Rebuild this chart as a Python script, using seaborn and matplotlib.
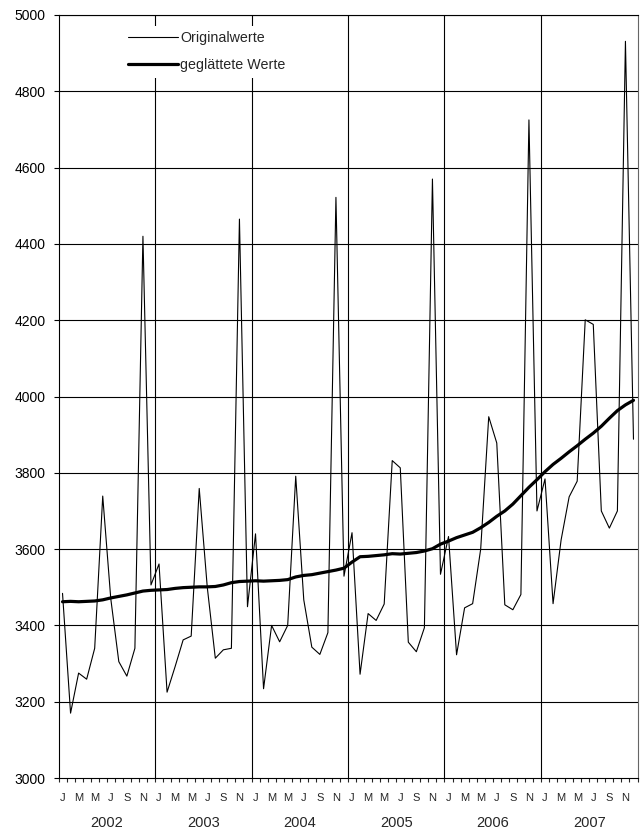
import numpy as np
import pandas as pd
import matplotlib
matplotlib.use("Agg")
import matplotlib.pyplot as plt
import matplotlib.transforms as mtransforms
import seaborn as sns

# ---- data -------------------------------------------------------------
years = ["2002", "2003", "2004", "2005", "2006", "2007"]
month_letters = ["J", "M", "M", "J", "S", "N"]   # Jan, Mar, May, Jul, Sep, Nov

original = [
    3484, 3170, 3275, 3259, 3340, 3739, 3470, 3305, 3267, 3340, 4420, 3506,  # 2002
    3561, 3225, 3292, 3362, 3372, 3759, 3500, 3314, 3336, 3340, 4465, 3449,  # 2003
    3640, 3234, 3400, 3357, 3400, 3791, 3467, 3343, 3324, 3381, 4522, 3529,  # 2004
    3643, 3272, 3431, 3413, 3456, 3832, 3813, 3356, 3331, 3394, 4570, 3534,  # 2005
    3633, 3323, 3446, 3457, 3600, 3947, 3878, 3454, 3441, 3481, 4725, 3700,  # 2006
    3784, 3457, 3624, 3737, 3778, 4201, 4189, 3700, 3655, 3700, 4931, 3888,  # 2007
]
smoothed = [
    3462, 3463, 3462, 3463, 3464, 3467, 3472, 3476, 3480, 3485, 3490, 3492,
    3493, 3494, 3497, 3499, 3500, 3501, 3501, 3502, 3506, 3512, 3515, 3516,
    3517, 3516, 3517, 3518, 3520, 3527, 3531, 3533, 3537, 3541, 3545, 3550,
    3566, 3580, 3581, 3583, 3585, 3588, 3587, 3589, 3591, 3595, 3601, 3613,
    3621, 3630, 3637, 3644, 3656, 3670, 3686, 3700, 3718, 3740, 3762, 3782,
    3803, 3822, 3838, 3855, 3871, 3888, 3904, 3922, 3943, 3963, 3978, 3990,
]
label_orig = "Originalwerte"
label_smooth = "geglättete Werte"

n = len(original)
df_o = pd.DataFrame({"t": np.arange(n), "wert": original})
df_s = pd.DataFrame({"t": np.arange(n), "wert": smoothed})

# ---- style ------------------------------------------------------------
sns.set_style("white")
plt.rcParams["font.family"] = ["Liberation Sans", "DejaVu Sans"]

fig = plt.figure(figsize=(6.44, 8.35), dpi=100)
ax = fig.add_axes([58.5 / 644, 1 - 778 / 835, 579 / 644, 763 / 835])

# grid lines
for v in range(3200, 5001, 200):
    ax.axhline(v, color="black", lw=0.8, zorder=1)
for k in range(1, len(years)):
    ax.axvline(12 * k - 0.5, color="black", lw=0.8, zorder=1)

sns.lineplot(data=df_o, x="t", y="wert", ax=ax, color="black", lw=0.8,
             label=label_orig, zorder=3)
sns.lineplot(data=df_s, x="t", y="wert", ax=ax, color="black", lw=2.3,
             label=label_smooth, zorder=4)

ax.set_xlim(-0.5, n - 0.5)
ax.set_ylim(3000, 5000)
ax.set_xlabel("")
ax.set_ylabel("")

# y axis
ax.set_yticks(range(3000, 5001, 200))
ax.tick_params(axis="y", direction="out", length=3.6, width=0.8, pad=5.5,
               labelsize=10, left=True, colors="black")

# x axis: ticks at category boundaries, letters at alternate months
ax.set_xticks(np.arange(-0.5, n, 1.0))
ax.set_xticklabels([])
ax.tick_params(axis="x", which="major", direction="out", length=3, width=0.8,
               bottom=True)
ax.set_xticks(np.arange(0, n, 2), minor=True)
ax.set_xticklabels(month_letters * len(years), minor=True)
ax.tick_params(axis="x", which="minor", length=0, pad=10.5, labelsize=8)

trans = mtransforms.blended_transform_factory(ax.transData, ax.transAxes)
for k, yr in enumerate(years):
    ax.text(12 * k + 5.5, -0.059, yr, transform=trans, ha="center",
            va="center", fontsize=10.5)

for side in ["left", "bottom", "top"]:
    ax.spines[side].set_color("black")
    ax.spines[side].set_linewidth(0.8)
ax.spines["right"].set_color("#666666")
ax.spines["right"].set_linewidth(0.8)

leg = ax.legend(loc="upper left", bbox_to_anchor=(0.1104, 0.986),
                borderaxespad=0, frameon=True, fontsize=10.3,
                handlelength=3.5, handletextpad=0.14, labelspacing=0.88,
                borderpad=0.4, fancybox=False)
leg.get_frame().set_facecolor("white")
leg.get_frame().set_edgecolor("none")
leg.get_frame().set_alpha(1)
leg.set_zorder(5)

fig.savefig("out.png", dpi=100)
